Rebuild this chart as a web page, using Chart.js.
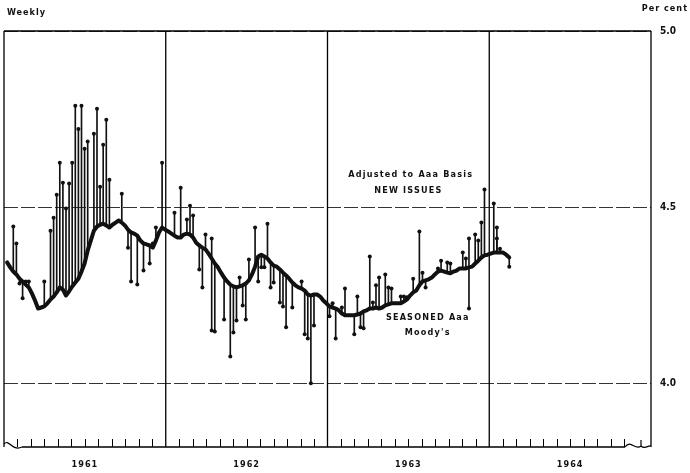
<!DOCTYPE html>
<html>
<head>
<meta charset="utf-8">
<script src="https://cdn.jsdelivr.net/npm/chart.js@4.4.1/dist/chart.umd.min.js"></script>
<style>
    html, body { margin: 0; padding: 0; background: #fff; }
</style>
</head>
<body>
<canvas id="rendimientoBonos" width="690" height="473"></canvas>
<script>
const anioInicio = 1961;
const semanasPorAnio = 52.18;

// Seasoned Aaa (Moody's), una cifra por semana desde la semana 1 de 1961
const rendimientoAaa = [
    4.343, 4.329, 4.317, 4.309, 4.297, 4.289, 4.280, 4.272, 4.255, 4.235,
    4.212, 4.215, 4.218, 4.227, 4.238, 4.246, 4.258, 4.272, 4.266, 4.249,
    4.261, 4.275, 4.286, 4.297, 4.317, 4.340, 4.377, 4.405, 4.433, 4.445,
    4.450, 4.453, 4.448, 4.442, 4.450, 4.456, 4.462, 4.456, 4.448, 4.436,
    4.428, 4.425, 4.419, 4.405, 4.397, 4.394, 4.391, 4.385, 4.405, 4.428,
    4.442, 4.436, 4.431, 4.425, 4.419, 4.414, 4.414, 4.422, 4.425, 4.422,
    4.414, 4.399, 4.391, 4.385, 4.380, 4.368, 4.354, 4.340, 4.329, 4.314,
    4.300, 4.289, 4.280, 4.275, 4.272, 4.275, 4.278, 4.283, 4.292, 4.309,
    4.331, 4.360, 4.365, 4.360, 4.354, 4.343, 4.334, 4.331, 4.323, 4.314,
    4.306, 4.297, 4.286, 4.278, 4.272, 4.269, 4.263, 4.252, 4.249, 4.252,
    4.252, 4.246, 4.235, 4.227, 4.218, 4.215, 4.212, 4.207, 4.198, 4.193,
    4.193, 4.193, 4.193, 4.195, 4.198, 4.204, 4.207, 4.212, 4.212, 4.215,
    4.212, 4.215, 4.221, 4.224, 4.227, 4.227, 4.227, 4.227, 4.232, 4.238,
    4.249, 4.258, 4.263, 4.278, 4.289, 4.292, 4.295, 4.300, 4.309, 4.317,
    4.320, 4.317, 4.314, 4.312, 4.317, 4.320, 4.326, 4.326, 4.326, 4.329,
    4.331, 4.340, 4.348, 4.357, 4.363, 4.365, 4.368, 4.371, 4.371, 4.371,
    4.371, 4.365, 4.357
];

// New issues ajustadas a base Aaa: semana y rendimiento
const semanasNuevas = [
    3, 4, 5, 6, 7, 8, 13, 15, 16, 17, 18, 19, 20, 21, 22, 23, 24, 25, 26, 27,
    29, 30, 31, 32, 33, 34, 38, 40, 41, 43, 45, 47, 48, 49, 51, 55, 57, 59, 60, 61,
    63, 64, 65, 67, 67, 68, 71, 73, 74, 75, 76, 77, 78, 79, 81, 82, 83, 84, 85, 86,
    87, 89, 90, 91, 93, 96, 97, 98, 99, 100, 105, 106, 107, 109, 110, 113, 114, 115, 116, 118,
    119, 120, 121, 123, 124, 125, 128, 129, 130, 132, 134, 135, 136, 140, 141, 143, 144, 148, 149, 150,
    150, 152, 153, 154, 155, 158, 159, 159, 160, 163
];
const rendimientoNuevas = [
    4.445, 4.397, 4.283, 4.241, 4.289, 4.289, 4.289, 4.433, 4.470, 4.535, 4.626, 4.569, 4.496, 4.567, 4.626, 4.788, 4.722, 4.788, 4.666, 4.686,
    4.708, 4.779, 4.558, 4.677, 4.748, 4.578, 4.538, 4.385, 4.289, 4.280, 4.320, 4.340, 4.397, 4.442, 4.626, 4.484, 4.555, 4.465, 4.504, 4.476,
    4.323, 4.272, 4.422, 4.411, 4.150, 4.147, 4.181, 4.076, 4.144, 4.178, 4.300, 4.221, 4.181, 4.351, 4.442, 4.289, 4.329, 4.329, 4.453, 4.272,
    4.286, 4.229, 4.218, 4.159, 4.215, 4.289, 4.139, 4.127, 4.000, 4.164, 4.190, 4.227, 4.127, 4.215, 4.269, 4.139, 4.246, 4.159, 4.156, 4.360,
    4.229, 4.278, 4.300, 4.309, 4.272, 4.269, 4.246, 4.246, 4.244, 4.297, 4.431, 4.314, 4.272, 4.326, 4.348, 4.343, 4.340, 4.371, 4.354, 4.411,
    4.212, 4.422, 4.405, 4.456, 4.550, 4.510, 4.442, 4.411, 4.382, 4.331
];

const etiquetasAnios = ['1961', '1962', '1963', '1964'];
const marcasY = [4.0, 4.5, 5.0];

const fuente = "'DejaVu Sans Condensed', 'DejaVu Sans', sans-serif";

function aAnio(semana) {
    return anioInicio + semana / semanasPorAnio;
}

const lineaAaa = rendimientoAaa.map((v, i) => ({ x: aAnio(i + 1), y: v }));
const palitos = semanasNuevas.map((s, i) => ({ x: aAnio(s), y: [rendimientoAaa[s - 1], rendimientoNuevas[i]] }));
const puntosNuevas = semanasNuevas.map((s, i) => ({ x: aAnio(s), y: rendimientoNuevas[i] }));

// marco, lineas de anios, marcas de meses y textos
const pluginMarco = {
    id: 'marco',
    beforeDatasetsDraw(chart) {
        const ctx = chart.ctx;
        const area = chart.chartArea;
        const x = chart.scales.x;

        ctx.save();
        ctx.strokeStyle = '#000';
        ctx.lineWidth = 1.3;
        ctx.beginPath();
        for (let i = 0; i <= etiquetasAnios.length; i++) {
            const px = x.getPixelForValue(anioInicio + i);
            ctx.moveTo(px, area.top);
            ctx.lineTo(px, area.bottom);
        }
        ctx.moveTo(area.left, area.top);
        ctx.lineTo(area.right, area.top);
        ctx.moveTo(area.left + 18, area.bottom);
        ctx.lineTo(area.right - 26, area.bottom);
        ctx.stroke();

        // cortes ondulados en los extremos del eje
        ctx.lineWidth = 1.2;
        ctx.beginPath();
        ctx.moveTo(area.left, area.bottom - 3);
        ctx.bezierCurveTo(area.left + 5, area.bottom - 9, area.left + 8, area.bottom + 5, area.left + 18, area.bottom);
        ctx.moveTo(area.right - 26, area.bottom);
        ctx.bezierCurveTo(area.right - 20, area.bottom - 8, area.right - 16, area.bottom + 4, area.right - 10, area.bottom - 1);
        ctx.lineTo(area.right - 10, area.bottom - 7);
        ctx.moveTo(area.right - 10, area.bottom - 1);
        ctx.bezierCurveTo(area.right - 6, area.bottom + 3, area.right - 3, area.bottom - 2, area.right, area.bottom - 1);
        ctx.stroke();

        ctx.lineWidth = 1;
        ctx.beginPath();
        for (let m = 1; m < etiquetasAnios.length * 12; m++) {
            if (m % 12 === 0) continue;
            const px = Math.round(x.getPixelForValue(anioInicio + m / 12)) + 0.5;
            if (px > area.right - 26) continue;
            ctx.moveTo(px, area.bottom);
            ctx.lineTo(px, area.bottom - 8);
        }
        ctx.stroke();
        ctx.restore();
    },
    afterDraw(chart) {
        const ctx = chart.ctx;
        const area = chart.chartArea;
        const x = chart.scales.x;
        const y = chart.scales.y;

        ctx.save();
        ctx.fillStyle = '#111';
        ctx.font = 'bold 9px ' + fuente;
        ctx.letterSpacing = '1px';
        ctx.textBaseline = 'middle';
        ctx.textAlign = 'left';
        ctx.fillText('Weekly', 7, 13);
        ctx.textAlign = 'right';
        ctx.fillText('Per cent', 688, 9);

        ctx.textAlign = 'center';
        etiquetasAnios.forEach((e, i) => {
            ctx.fillText(e, x.getPixelForValue(anioInicio + i + 0.5), area.bottom + 18);
        });

        ctx.letterSpacing = '1.2px';
        ctx.fillText('Adjusted to Aaa Basis', x.getPixelForValue(1963.515), y.getPixelForValue(4.591));
        ctx.fillText('NEW ISSUES', x.getPixelForValue(1963.50), y.getPixelForValue(4.548));
        ctx.fillText('SEASONED Aaa', x.getPixelForValue(1963.62), y.getPixelForValue(4.185));
        ctx.fillText("Moody's", x.getPixelForValue(1963.62), y.getPixelForValue(4.145));
        ctx.restore();
    }
};

const ctx = document.getElementById('rendimientoBonos').getContext('2d');

const grafico = new Chart(ctx, {
    type: 'line',
    data: {
        datasets: [{
            label: "SEASONED Aaa Moody's",
            data: lineaAaa,
            borderColor: '#111',
            borderWidth: 4,
            pointRadius: 0,
            tension: 0,
            borderJoinStyle: 'round',
            borderCapStyle: 'round'
        }, {
            type: 'bar',
            label: 'Adjusted to Aaa Basis',
            data: palitos,
            backgroundColor: '#111',
            borderWidth: 0,
            barThickness: 1
        }, {
            type: 'scatter',
            label: 'NEW ISSUES',
            data: puntosNuevas,
            backgroundColor: '#111',
            borderColor: '#111',
            pointRadius: 2,
            borderWidth: 0
        }]
    },
    options: {
        responsive: false,
        animation: false,
        devicePixelRatio: 1,
        layout: { padding: { top: 31, left: 2, right: 0, bottom: 26 } },
        plugins: {
            legend: { display: false },
            tooltip: { enabled: false }
        },
        scales: {
            x: {
                type: 'linear',
                min: anioInicio,
                max: anioInicio + etiquetasAnios.length,
                offset: false,
                display: false
            },
            y: {
                type: 'linear',
                position: 'right',
                min: 3.819,
                max: 5.0,
                afterBuildTicks: function (scale) {
                    scale.ticks = marcasY.map(v => ({ value: v }));
                },
                ticks: {
                    padding: 9,
                    color: '#111',
                    font: { family: fuente, weight: 'bold', size: 10 },
                    callback: function (valor) { return valor.toFixed(1); }
                },
                grid: { color: '#333', lineWidth: 1, drawTicks: false },
                border: { display: false, dash: [14, 3] },
                afterFit: function (scale) { scale.width = 39; }
            }
        }
    },
    plugins: [pluginMarco]
});
</script>
</body>
</html>
